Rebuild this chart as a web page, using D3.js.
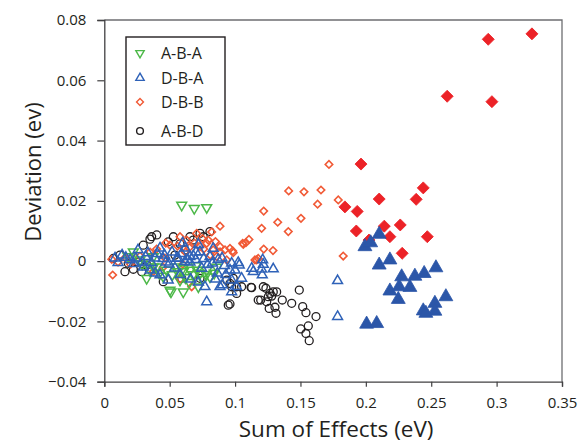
<!DOCTYPE html>
<html lang="en">
<head>
    <meta charset="utf-8">
    <title>Deviation vs Sum of Effects</title>
    <script src="https://cdn.jsdelivr.net/npm/d3@7"></script>
    <style type="text/css">
        body { margin: 0; background: #fff; }
        text { font-family: "Open Sans", "DejaVu Sans", sans-serif; fill: #231f20; }
    </style>
</head>
<body>
<script type="text/javascript">

    // series names in legend order
    var series_names = ["A-B-A", "D-B-A", "D-B-B", "A-B-D"];

    var x_ticks = [0, 0.05, 0.1, 0.15, 0.2, 0.25, 0.3, 0.35];
    var x_tick_labels = ["0", "0.05", "0.1", "0.15", "0.2", "0.25", "0.3", "0.35"];
    var y_ticks = [-0.04, -0.02, 0, 0.02, 0.04, 0.06, 0.08];
    var y_tick_labels = ["\u22120.04", "\u22120.02", "0", "0.02", "0.04", "0.06", "0.08"];

    // A-B-D, open circles [sum, deviation]
    var abd = [
        [0.0069, 0.0009], [0.0158, -0.0035], [0.0183, -0.0007], [0.0222, -0.0027],
        [0.0286, -0.0035], [0.0298, 0.0053], [0.0349, 0.0073], [0.0401, 0.0087],
        [0.0362, 0.0081], [0.0451, -0.0068], [0.0489, 0.0064], [0.0579, 0.0057],
        [0.0655, 0.0081], [0.0680, 0.0070], [0.0732, 0.0092], [0.0757, 0.0081],
        [0.0808, 0.0098], [0.0528, 0.0081], [0.0617, 0.0037], [0.0540, 0.0020],
        [0.0120, 0.0020], [0.0258, -0.0003], [0.0326, -0.0013], [0.0592, -0.0057],
        [0.0732, -0.0057], [0.0936, -0.0063], [0.0974, -0.0085], [0.0986, -0.0057],
        [0.1050, -0.0085], [0.1127, -0.0088], [0.0961, -0.0142], [0.1177, -0.0129],
        [0.0948, -0.0146], [0.0961, -0.0074], [0.1012, -0.0085], [0.1012, -0.0107],
        [0.1122, -0.0087], [0.1216, -0.0085], [0.1236, -0.0090], [0.1267, -0.0107],
        [0.1292, -0.0102], [0.1318, -0.0102], [0.1254, -0.0118], [0.1280, -0.0116],
        [0.1196, -0.0129], [0.1242, -0.0135], [0.1361, -0.0129], [0.1433, -0.0140],
        [0.1305, -0.0153], [0.1261, -0.0157], [0.1313, -0.0173], [0.1491, -0.0096],
        [0.1517, -0.0151], [0.1542, -0.0171], [0.1619, -0.0184], [0.1560, -0.0215],
        [0.1502, -0.0225], [0.1542, -0.0240], [0.1567, -0.0264]
    ];

    // D-B-B, open diamonds
    var dbb = [
        [0.1718, 0.0321], [0.1410, 0.0233], [0.1527, 0.0230], [0.1657, 0.0236],
        [0.1631, 0.0189], [0.1789, 0.0203], [0.1219, 0.0166], [0.1326, 0.0129],
        [0.1504, 0.0142], [0.1203, 0.0109], [0.1407, 0.0098], [0.1106, 0.0072],
        [0.1063, 0.0056], [0.1219, 0.0040], [0.1290, 0.0035], [0.0982, 0.0034],
        [0.1152, 0.0004], [0.1177, 0.0009], [0.1827, 0.0017], [0.0885, 0.0116],
        [0.0821, 0.0097], [0.1058, 0.0059], [0.0885, 0.0048], [0.0923, 0.0037],
        [0.0961, 0.0042], [0.0795, 0.0070], [0.1083, 0.0061], [0.0986, 0.0028],
        [0.0057, 0.0006], [0.0064, -0.0046], [0.1165, 0.0004], [0.0579, 0.0081],
        [0.0630, 0.0070], [0.0706, 0.0092], [0.0732, 0.0048], [0.0783, 0.0059],
        [0.0833, 0.0037], [0.0885, 0.0031], [0.0936, 0.0004], [0.0375, -0.0035],
        [0.0668, -0.0085], [0.0105, -0.0003], [0.0273, 0.0017], [0.0464, 0.0010],
        [0.0502, 0.0053], [0.0160, 0.0012], [0.0350, 0.0030], [0.0600, -0.0010],
        [0.0470, 0.0060], [0.0560, 0.0050], [0.0650, 0.0045], [0.0690, 0.0060],
        [0.0760, 0.0040], [0.0810, 0.0020], [0.0860, 0.0015], [0.0620, 0.0030],
        [0.0400, 0.0040], [0.0200, -0.0010], [0.0450, -0.0020], [0.0580, -0.0060],
        [0.0750, 0.0075], [0.0850, 0.0065]
    ];

    // A-B-A, open down triangles
    var aba = [
        [0.0592, 0.0186], [0.0688, 0.0175], [0.0783, 0.0178], [0.0222, 0.0031],
        [0.0502, -0.0096], [0.0604, -0.0102], [0.0719, -0.0085], [0.0554, -0.0019],
        [0.0604, -0.0035], [0.0655, -0.0030], [0.0732, -0.0040], [0.0783, -0.0030],
        [0.0808, -0.0052], [0.0401, -0.0019], [0.0477, -0.0030], [0.0375, -0.0019],
        [0.0510, -0.0102], [0.0375, 0.0015], [0.0579, -0.0063], [0.0324, -0.0057],
        [0.0273, 0.0004], [0.0183, 0.0015], [0.0700, -0.0015], [0.0860, -0.0020],
        [0.0420, -0.0040], [0.0450, -0.0050], [0.0520, -0.0045], [0.0560, -0.0035],
        [0.0620, -0.0055], [0.0680, -0.0045], [0.0750, -0.0060], [0.0780, -0.0045],
        [0.0840, -0.0040], [0.0650, -0.0070], [0.0350, -0.0030], [0.0290, -0.0010],
        [0.0600, -0.0025], [0.0710, -0.0030]
    ];

    // D-B-A, open up triangles
    var dba = [
        [0.0082, 0.0010], [0.0136, 0.0020], [0.0197, 0.0004], [0.0258, 0.0037],
        [0.0289, -0.0003], [0.0334, 0.0027], [0.0388, 0.0010], [0.0426, 0.0043],
        [0.0472, -0.0003], [0.0518, 0.0030], [0.0564, 0.0010], [0.0617, 0.0043],
        [0.0655, -0.0003], [0.0701, 0.0030], [0.0732, 0.0031], [0.0808, 0.0015],
        [0.0833, 0.0042], [0.0554, 0.0009], [0.0617, -0.0002], [0.0655, 0.0015],
        [0.0745, -0.0024], [0.0827, -0.0007], [0.0865, -0.0040], [0.0903, -0.0079],
        [0.0961, -0.0030], [0.0974, -0.0063], [0.1012, -0.0085], [0.1024, -0.0005],
        [0.1050, -0.0057], [0.0770, -0.0085], [0.0783, -0.0135], [0.0489, -0.0063],
        [0.0885, -0.0085], [0.0974, -0.0007], [0.1032, -0.0013], [0.1127, -0.0024],
        [0.1139, -0.0035], [0.1211, 0.0004], [0.1216, -0.0011], [0.1203, -0.0027],
        [0.1208, -0.0046], [0.1292, -0.0026], [0.0974, -0.0102], [0.1784, -0.0065],
        [0.1784, -0.0184], [0.0350, -0.0030], [0.0426, -0.0046], [0.0540, -0.0023],
        [0.0240, 0.0010], [0.0460, 0.0020], [0.0700, 0.0005], [0.0900, 0.0010],
        [0.0105, -0.0005], [0.0165, 0.0012], [0.0225, -0.0008], [0.0315, 0.0015],
        [0.0360, -0.0005], [0.0405, 0.0025], [0.0450, 0.0008], [0.0495, -0.0010],
        [0.0590, 0.0025], [0.0635, 0.0005], [0.0680, 0.0018], [0.0760, 0.0008],
        [0.0790, -0.0012], [0.0870, 0.0005], [0.0920, -0.0015], [0.0300, -0.0020],
        [0.0390, -0.0040], [0.0580, -0.0045], [0.0660, -0.0060], [0.0720, -0.0070],
        [0.0850, -0.0060], [0.0930, -0.0045], [0.1000, -0.0030], [0.0600, 0.0060],
        [0.0720, 0.0055]
    ];

    // D-B-B large filled diamonds
    var dbb_big = [
        [0.1963, 0.0322], [0.2102, 0.0206], [0.1840, 0.0180], [0.1934, 0.0165],
        [0.2439, 0.0243], [0.2385, 0.0205], [0.1927, 0.0100], [0.2141, 0.0116],
        [0.2184, 0.0081], [0.2263, 0.0120], [0.2470, 0.0081], [0.2024, 0.0070],
        [0.2278, 0.0026], [0.2936, 0.0736], [0.3270, 0.0754], [0.2622, 0.0547],
        [0.2964, 0.0529]
    ];

    // D-B-A large filled triangles
    var dba_big = [
        [0.2102, 0.0089], [0.1993, 0.0048], [0.2037, 0.0061], [0.2102, -0.0013],
        [0.2184, 0.0004], [0.2274, -0.0052], [0.2375, -0.0050], [0.2446, -0.0041],
        [0.2536, -0.0022], [0.2184, -0.0099], [0.2255, -0.0085], [0.2337, -0.0087],
        [0.2248, -0.0127], [0.2439, -0.0165], [0.2528, -0.0140], [0.2528, -0.0166],
        [0.2612, -0.0118], [0.2459, -0.0173], [0.2006, -0.0209], [0.2083, -0.0207]
    ];

    var w = 586;
    var h = 445;
    var m_left = 104.3, m_right = 562, m_top = 20, m_bottom = 381.7;

    var xScale = d3.scaleLinear().domain([0, 0.35]).range([m_left, m_right]);
    var yScale = d3.scaleLinear().domain([-0.04, 0.08]).range([m_bottom, m_top]);

    var green = "#4cb848";
    var blue = "#2f62b8";
    var orange = "#f15a36";
    var black = "#231f20";

    var svg = d3.select("body")
        .append("svg")
        .attr("width", w)
        .attr("height", h);

    // frame (top and right)
    svg.append("path")
        .attr("d", "M" + m_left + "," + m_top + "H" + m_right + "V" + m_bottom)
        .attr("fill", "none")
        .attr("stroke", "#6d6e71")
        .attr("stroke-width", 1.3);

    var xAxis = d3.axisBottom(xScale)
        .tickValues(x_ticks)
        .tickFormat(function(d, i) { return x_tick_labels[i]; })
        .tickSize(5)
        .tickPadding(11);
    var gx = svg.append("g")
        .attr("transform", "translate(0," + m_bottom + ")")
        .call(xAxis);

    var yAxis = d3.axisLeft(yScale)
        .tickValues(y_ticks)
        .tickFormat(function(d, i) { return y_tick_labels[i]; })
        .tickSize(7)
        .tickPadding(11);
    var gy = svg.append("g")
        .attr("transform", "translate(" + m_left + ",0)")
        .call(yAxis);

    [gx, gy].forEach(function(g) {
        g.select(".domain").attr("stroke", "#414042").attr("stroke-width", 1.3);
        g.selectAll(".tick line").attr("stroke", "#414042").attr("stroke-width", 1.2);
        g.selectAll(".tick text")
            .attr("font-size", 15)
            .attr("fill", "#231f20")
            .style("font-family", "\"Open Sans\", sans-serif");
    });

    // axis titles
    svg.append("text")
        .attr("x", (m_left + m_right) / 2 + 3)
        .attr("y", 437)
        .attr("text-anchor", "middle")
        .attr("font-size", 22.5)
        .text("Sum of Effects (eV)");

    svg.append("text")
        .attr("transform", "translate(41,172) rotate(-90)")
        .attr("text-anchor", "middle")
        .attr("font-size", 22)
        .text("Deviation (ev)");

    var sym = function(type, size) {
        return d3.symbol().type(type).size(size)();
    };
    var diamond_path = function(size) {
        return d3.symbol().type(d3.symbolSquare).size(size)();
    };

    function draw_series(data, cls, path, rotate, fill, stroke, sw) {
        svg.selectAll("path." + cls)
            .data(data)
            .enter()
            .append("path")
            .attr("class", cls)
            .attr("d", path)
            .attr("transform", function(d) {
                return "translate(" + xScale(d[0]) + "," + yScale(d[1]) + ") rotate(" + rotate + ")";
            })
            .attr("fill", fill)
            .attr("stroke", stroke)
            .attr("stroke-width", sw);
    }

    draw_series(abd, "abd", sym(d3.symbolCircle, 50), 0, "none", black, 1.3);
    draw_series(dbb, "dbb", diamond_path(28), 45, "none", orange, 1.6);
    draw_series(aba, "aba", sym(d3.symbolTriangle, 42), 180, "none", green, 1.5);
    draw_series(dba, "dba", sym(d3.symbolTriangle, 42), 0, "none", blue, 1.5);
    draw_series(dbb_big, "dbbbig", diamond_path(72), 45, "#ec2227", "#ec2227", 0.8);
    draw_series(dba_big, "dbabig", sym(d3.symbolTriangle, 84), 0, "#2b56a8", "#2b56a8", 0.8);

    // legend
    var legend = svg.append("g");
    legend.append("rect")
        .attr("x", 126)
        .attr("y", 37)
        .attr("width", 99)
        .attr("height", 108)
        .attr("fill", "#fff")
        .attr("stroke", "#231f20")
        .attr("stroke-width", 1.4);

    var legend_rows = [
        { name: series_names[0], path: sym(d3.symbolTriangle, 30), rot: 180, color: green, y: 53 },
        { name: series_names[1], path: sym(d3.symbolTriangle, 30), rot: 0, color: blue, y: 78 },
        { name: series_names[2], path: diamond_path(24), rot: 45, color: orange, y: 102 },
        { name: series_names[3], path: sym(d3.symbolCircle, 36), rot: 0, color: black, y: 131 }
    ];
    legend_rows.forEach(function(r) {
        legend.append("path")
            .attr("d", r.path)
            .attr("transform", "translate(140," + r.y + ") rotate(" + r.rot + ")")
            .attr("fill", "none")
            .attr("stroke", r.color)
            .attr("stroke-width", 1.4);
        legend.append("text")
            .attr("x", 161)
            .attr("y", r.y + 6)
            .attr("font-size", 16)
            .text(r.name);
    });

</script>
</body>
</html>
